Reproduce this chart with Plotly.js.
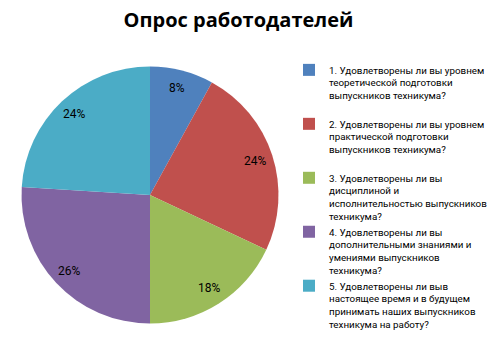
<!DOCTYPE html>
<html>
<head>
<meta charset="utf-8">
<script src="https://cdn.plot.ly/plotly-3.0.1.min.js"></script>
<style>html,body{margin:0;padding:0;background:#fff;}#chart{width:489px;height:360px;}</style>
</head>
<body>
<div id="chart"></div>
<script>
var chartTitle = "Опрос работодателей";
var categories = [
  "1. Удовлетворены ли вы уровнем<br>теоретической подготовки<br>выпускников техникума?<br> ",
  "2. Удовлетворены ли вы уровнем<br>практической подготовки<br>выпускников техникума?<br> ",
  "3. Удовлетворены ли вы<br>дисциплиной и<br>исполнительностью выпускников<br>техникума?",
  "4. Удовлетворены ли вы<br>дополнительными знаниями и<br>умениями выпускников<br>техникума?",
  "5. Удовлетворены ли выв<br>настоящее время и в будущем<br>принимать наших выпускников<br>техникума на работу?"
];
var values = [8, 24, 18, 26, 24];
var colors = ["#4F81BD", "#C0504D", "#9BBB59", "#8064A2", "#4BACC6"];

var W = 489, H = 360;
// pie geometry (pixels)
var cx = 150, cy = 195, R = 128.5;
var dom = {x: [(cx - R) / W, (cx + R) / W], y: [(H - cy - R) / H, (H - cy + R) / H]};

// percent labels placed along each slice's mid-angle, computed from values
var total = values.reduce(function (a, b) { return a + b; }, 0);
var annotations = [];
var cum = 0;
for (var i = 0; i < values.length; i++) {
  var mid = (cum + values[i] / 2) / total * 2 * Math.PI;
  cum += values[i];
  var rr = 0.86 * R;
  annotations.push({
    xref: "paper", yref: "paper",
    x: (cx + rr * Math.sin(mid)) / W,
    y: (H - (cy - rr * Math.cos(mid))) / H,
    text: Math.round(values[i] / total * 100) + "%",
    showarrow: false,
    xanchor: "center", yanchor: "middle",
    font: {family: "Roboto, sans-serif", size: 12, color: "#000"}
  });
}

var data = [{
  type: "pie",
  labels: categories,
  values: values,
  sort: false,
  direction: "clockwise",
  rotation: 0,
  marker: {colors: colors, line: {width: 0}},
  textinfo: "none",
  textposition: "none",
  hoverinfo: "label+percent",
  domain: dom
}];
var layout = {
  width: W, height: H,
  margin: {l: 0, r: 0, t: 0, b: 0, autoexpand: false},
  paper_bgcolor: "#fff",
  title: {
    text: "<b>" + chartTitle + "</b>",
    font: {family: "Open Sans, sans-serif", size: 20, color: "#000"},
    x: 238.5 / W, xanchor: "center", xref: "paper",
    y: 1 - 20 / H, yanchor: "middle", yref: "container"
  },
  annotations: annotations,
  showlegend: true,
  legend: {
    xref: "container", yref: "container",
    x: 289 / W, xanchor: "left",
    y: 1 - 57 / H, yanchor: "top",
    valign: "top",
    maxheight: 340,
    font: {family: "Roboto, sans-serif", size: 9.8, color: "#000"},
    bgcolor: "rgba(0,0,0,0)",
    borderwidth: 0
  }
};
Plotly.newPlot("chart", data, layout, {displayModeBar: false, staticPlot: true});
</script>
</body>
</html>
